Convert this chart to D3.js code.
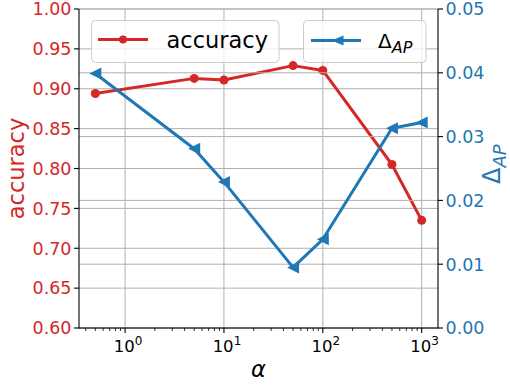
<!DOCTYPE html>
<html>
<head>
<meta charset="utf-8">
<script src="https://cdn.jsdelivr.net/npm/d3@7"></script>
<style>
  body { margin: 0; background: #fff; }
  svg { display: block; font-family: 'DejaVu Sans', sans-serif; }
</style>
</head>
<body>
<svg id="chart" width="510" height="385"></svg>
<script>
const ALPHAS = [0.5, 5, 10, 50, 100, 500, 1000]
const ACCURACY = [0.894, 0.913, 0.911, 0.929, 0.923, 0.805, 0.735]
const DELTA_AP = [0.0399, 0.0281, 0.0229, 0.0095, 0.0139, 0.0313, 0.0322]
const ACC_TICKS = [0.60, 0.65, 0.70, 0.75, 0.80, 0.85, 0.90, 0.95, 1.00]
const DAP_TICKS = [0.00, 0.01, 0.02, 0.03, 0.04, 0.05]
const X_TICKS = [1, 10, 100, 1000]

const RED = '#d62728'
const BLUE = '#1f77b4'
const GRID = '#b0b0b0'

const plotL = 79, plotR = 438, plotT = 9, plotB = 328

// matplotlib-like 5% margins in log space
const lo = Math.log10(d3.min(ALPHAS)), hi = Math.log10(d3.max(ALPHAS))
const pad = (hi - lo) * 0.05
const x = d3.scaleLog().domain([10 ** (lo - pad), 10 ** (hi + pad)]).range([plotL, plotR])
const yAcc = d3.scaleLinear().domain([0.6, 1.0]).range([plotB, plotT])
const yDap = d3.scaleLinear().domain([0, 0.05]).range([plotB, plotT])

const svg = d3.select('#chart')

// grid
const grid = svg.append('g').attr('stroke', GRID).attr('stroke-width', 1)
grid.selectAll('.vx')
    .data(X_TICKS)
    .join('line')
    .attr('class', 'vx')
    .attr('x1', d => x(d)).attr('x2', d => x(d))
    .attr('y1', plotT).attr('y2', plotB)
grid.selectAll('.ha')
    .data(ACC_TICKS)
    .join('line')
    .attr('class', 'ha')
    .attr('x1', plotL).attr('x2', plotR)
    .attr('y1', d => yAcc(d)).attr('y2', d => yAcc(d))

// accuracy series
const accLine = d3.line().x((d, i) => x(ALPHAS[i])).y(d => yAcc(d))
svg.append('path')
    .datum(ACCURACY)
    .attr('d', accLine)
    .attr('fill', 'none')
    .attr('stroke', RED)
    .attr('stroke-width', 3)
    .attr('stroke-linejoin', 'round')
svg.append('g').selectAll('circle')
    .data(ACCURACY)
    .join('circle')
    .attr('cx', (d, i) => x(ALPHAS[i]))
    .attr('cy', d => yAcc(d))
    .attr('r', 4.5)
    .attr('fill', RED)

// accuracy legend
const leg1 = svg.append('g')
leg1.append('rect')
    .attr('x', 91.5).attr('y', 20.5).attr('width', 187.5).attr('height', 42)
    .attr('rx', 4)
    .attr('fill', 'rgba(255,255,255,0.8)')
    .attr('stroke', '#cccccc')
leg1.append('line')
    .attr('x1', 98).attr('x2', 148).attr('y1', 39.5).attr('y2', 39.5)
    .attr('stroke', RED).attr('stroke-width', 3)
leg1.append('circle').attr('cx', 123).attr('cy', 39.5).attr('r', 4).attr('fill', RED)
leg1.append('text')
    .attr('x', 166.5).attr('y', 47.5)
    .attr('font-size', 22.5)
    .attr('fill', '#000')
    .text('accuracy')

// twin axis grid
const grid2 = svg.append('g').attr('stroke', GRID).attr('stroke-width', 1)
grid2.selectAll('line')
    .data(DAP_TICKS)
    .join('line')
    .attr('x1', plotL).attr('x2', plotR)
    .attr('y1', d => yDap(d)).attr('y2', d => yDap(d))

// delta AP series
const dapLine = d3.line().x((d, i) => x(ALPHAS[i])).y(d => yDap(d))
svg.append('path')
    .datum(DELTA_AP)
    .attr('d', dapLine)
    .attr('fill', 'none')
    .attr('stroke', BLUE)
    .attr('stroke-width', 3)
    .attr('stroke-linejoin', 'round')

const tri = (cx, cy, w, h) => `M${cx - w},${cy}L${cx + w},${cy - h}L${cx + w},${cy + h}Z`
svg.append('g').selectAll('path')
    .data(DELTA_AP)
    .join('path')
    .attr('d', (d, i) => tri(x(ALPHAS[i]), yDap(d), 6, 6))
    .attr('fill', BLUE)

// delta AP legend
const leg2 = svg.append('g')
leg2.append('rect')
    .attr('x', 303.5).attr('y', 20.5).attr('width', 122.5).attr('height', 42)
    .attr('rx', 4)
    .attr('fill', 'rgba(255,255,255,0.8)')
    .attr('stroke', '#cccccc')
leg2.append('line')
    .attr('x1', 311).attr('x2', 361).attr('y1', 40.5).attr('y2', 40.5)
    .attr('stroke', BLUE).attr('stroke-width', 3)
leg2.append('path').attr('d', tri(337.5, 40.5, 6, 5)).attr('fill', BLUE)
const legText = leg2.append('text')
    .attr('x', 378).attr('y', 47.5)
    .attr('font-size', 20)
    .attr('fill', '#000')
legText.append('tspan').text('Δ')
legText.append('tspan')
    .attr('dy', 5)
    .attr('font-size', 16)
    .attr('font-style', 'italic')
    .text('AP')

// spines
const spines = svg.append('g').attr('stroke', '#000').attr('stroke-width', 1.1)
spines.append('line').attr('x1', plotL).attr('x2', plotL).attr('y1', plotT).attr('y2', plotB + 0.5)
spines.append('line').attr('x1', plotR).attr('x2', plotR).attr('y1', plotT).attr('y2', plotB + 0.5)
spines.append('line').attr('x1', plotL).attr('x2', plotR).attr('y1', plotB).attr('y2', plotB)

// left ticks
const accAxis = svg.append('g')
accAxis.selectAll('line')
    .data(ACC_TICKS)
    .join('line')
    .attr('x1', plotL - 5).attr('x2', plotL)
    .attr('y1', d => yAcc(d)).attr('y2', d => yAcc(d))
    .attr('stroke', '#000').attr('stroke-width', 1.1)
accAxis.selectAll('text')
    .data(ACC_TICKS)
    .join('text')
    .attr('x', plotL - 7.5)
    .attr('y', d => yAcc(d))
    .attr('dy', '0.36em')
    .attr('text-anchor', 'end')
    .attr('font-size', 17.5)
    .attr('fill', RED)
    .text(d => d.toFixed(2))

// right ticks
const dapAxis = svg.append('g')
dapAxis.selectAll('line')
    .data(DAP_TICKS)
    .join('line')
    .attr('x1', plotR).attr('x2', plotR + 5)
    .attr('y1', d => yDap(d)).attr('y2', d => yDap(d))
    .attr('stroke', '#000').attr('stroke-width', 1.1)
dapAxis.selectAll('text')
    .data(DAP_TICKS)
    .join('text')
    .attr('x', plotR + 7.5)
    .attr('y', d => yDap(d))
    .attr('dy', '0.36em')
    .attr('font-size', 17.5)
    .attr('fill', BLUE)
    .text(d => d.toFixed(2))

// bottom ticks, major and minor
const [d0, d1] = x.domain()
const minors = []
for (let e = Math.floor(Math.log10(d0)); e <= Math.ceil(Math.log10(d1)); e++) {
    for (let k = 2; k <= 9; k++) {
        const v = k * 10 ** e
        if (v >= d0 && v <= d1) minors.push(v)
    }
}
const xAxis = svg.append('g')
xAxis.selectAll('.minor')
    .data(minors)
    .join('line')
    .attr('class', 'minor')
    .attr('x1', d => x(d)).attr('x2', d => x(d))
    .attr('y1', plotB).attr('y2', plotB + 3)
    .attr('stroke', '#000').attr('stroke-width', 0.8)
xAxis.selectAll('.major')
    .data(X_TICKS)
    .join('line')
    .attr('class', 'major')
    .attr('x1', d => x(d)).attr('x2', d => x(d))
    .attr('y1', plotB).attr('y2', plotB + 5)
    .attr('stroke', '#000').attr('stroke-width', 1.1)
const xLabels = xAxis.selectAll('text')
    .data(X_TICKS)
    .join('text')
    .attr('x', d => x(d) + 3)
    .attr('y', 351.5)
    .attr('text-anchor', 'middle')
    .attr('font-size', 16.5)
    .attr('fill', '#000')
xLabels.append('tspan').text('10')
xLabels.append('tspan')
    .attr('dy', -7)
    .attr('font-size', 12)
    .text(d => Math.round(Math.log10(d)))

// axis titles
svg.append('text')
    .attr('x', (plotL + plotR) / 2)
    .attr('y', 377)
    .attr('text-anchor', 'middle')
    .attr('font-size', 22.5)
    .attr('font-style', 'italic')
    .attr('fill', '#000')
    .text('α')

svg.append('text')
    .attr('transform', `translate(24,${(plotT + plotB) / 2}) rotate(-90)`)
    .attr('text-anchor', 'middle')
    .attr('font-size', 22.5)
    .attr('fill', RED)
    .text('accuracy')

const dapTitle = svg.append('text')
    .attr('transform', 'translate(500,184) rotate(-90)')
    .attr('font-size', 24)
    .attr('fill', BLUE)
dapTitle.append('tspan').text('Δ')
dapTitle.append('tspan')
    .attr('dy', 6)
    .attr('font-size', 18)
    .attr('font-style', 'italic')
    .text('AP')
</script>
</body>
</html>
